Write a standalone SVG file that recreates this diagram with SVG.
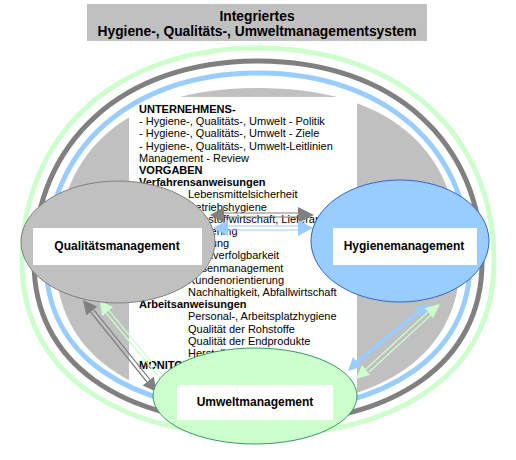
<svg xmlns="http://www.w3.org/2000/svg" width="516" height="460" viewBox="0 0 516 460">
<style>
.t{font-family:"Liberation Sans",Arial,sans-serif;font-size:11px;fill:#000}
.b{font-weight:bold}
.lbl{font-family:"Liberation Sans",Arial,sans-serif;font-size:12px;font-weight:bold;fill:#000;text-anchor:middle}
.ring{fill:none;stroke-width:5}
</style>
<rect width="516" height="460" fill="#fff"/>
<g id="title">
<rect x="87" y="4" width="340" height="37" fill="#c0c0c0"/>
<text x="257" y="21" text-anchor="middle" style="font-family:'Liberation Sans',Arial,sans-serif;font-size:13.8px;font-weight:bold">Integriertes</text>
<text x="257" y="36" text-anchor="middle" style="font-family:'Liberation Sans',Arial,sans-serif;font-size:13.8px;font-weight:bold">Hygiene-, Qualitäts-, Umweltmanagementsystem</text>
</g>
<g id="disk">
<path d="M56,262 C56,148.9 126.7,88 258,88 C389.3,88 460,148.9 460,262 C460,351.9 384.5,407 258,407 C131.5,407 56,351.9 56,262 Z" fill="#c0c0c0"/>
</g>
<g id="textbox">
<rect x="129" y="97" width="228" height="313" fill="#fff"/>
<text class="t b" x="139" y="113">UNTERNEHMENS-</text>
<text class="t" x="139" y="125.2">- Hygiene-, Qualitäts-, Umwelt - Politik</text>
<text class="t" x="139" y="137.4">- Hygiene-, Qualitäts-, Umwelt - Ziele</text>
<text class="t" x="139" y="149.6">- Hygiene-, Qualitäts-, Umwelt-Leitlinien</text>
<text class="t" x="139" y="161.8">Management - Review</text>
<text class="t b" x="139" y="174">VORGABEN</text>
<text class="t b" x="139" y="186.2">Verfahrensanweisungen</text>
<text class="t" x="188" y="198.4">Lebensmittelsicherheit</text>
<text class="t" x="188" y="210.6">Betriebshygiene</text>
<text class="t" x="188" y="222.8">Rohstoffwirtschaft, Lieferanten</text>
<text class="t" x="188" y="235">Screening</text>
<text class="t" x="188" y="247.2">Wartung</text>
<text class="t" x="188" y="259.4">Rückverfolgbarkeit</text>
<text class="t" x="188" y="271.6">Krisenmanagement</text>
<text class="t" x="188" y="283.8">Kundenorientierung</text>
<text class="t" x="188" y="296">Nachhaltigkeit, Abfallwirtschaft</text>
<text class="t b" x="139" y="308.2">Arbeitsanweisungen</text>
<text class="t" x="188" y="320.4">Personal-, Arbeitsplatzhygiene</text>
<text class="t" x="188" y="332.6">Qualität der Rohstoffe</text>
<text class="t" x="188" y="344.8">Qualität der Endprodukte</text>
<text class="t" x="188" y="357">Herstellung</text>
<text class="t b" x="139" y="369.2">MONITORING</text>
</g>
<g id="connectors">
<path class="ring" stroke="#ccffcc" d="M22,262 C22,133.6 116.4,48 258,48 C399.6,48 494,133.6 494,262 C494,369.3 404.3,435 258,435 C111.7,435 22,369.3 22,262 Z"/>
<path class="ring" stroke="#808080" d="M34,262 C34,141.4 123.6,61 258,61 C392.4,61 482,141.4 482,262 C482,361.8 396.9,423 258,423 C119.1,423 34,361.8 34,262 Z"/>
<path class="ring" stroke="#99ccff" d="M46,262 C46,148.6 130.8,73 258,73 C385.2,73 470,148.6 470,262 C470,354.4 389.4,411 258,411 C126.6,411 46,354.4 46,262 Z"/>
<polygon points="210,215 224,207 224,223" fill="#808080"/>
<polygon points="314,215 298,207 298,223" fill="#808080"/>
<line x1="224" y1="213" x2="298" y2="213" stroke="#808080" stroke-width="1.2"/>
<line x1="224" y1="217" x2="298" y2="217" stroke="#808080" stroke-width="1.2"/>
<polygon points="213,228 228,220 228,236" fill="#99ccff"/>
<polygon points="313,228 298,220 298,236" fill="#99ccff"/>
<line x1="228" y1="226" x2="298" y2="226" stroke="#99ccff" stroke-width="1.2"/>
<line x1="228" y1="230" x2="298" y2="230" stroke="#99ccff" stroke-width="1.2"/>
<polygon points="83,300 86.3,315.3 97.3,306.5" fill="#808080"/>
<polygon points="157,392 142.7,385.5 153.7,376.7" fill="#808080"/>
<line x1="90.6" y1="312" x2="147" y2="382" stroke="#808080" stroke-width="1.2"/>
<line x1="93.6" y1="309.6" x2="150" y2="379.6" stroke="#808080" stroke-width="1.2"/>
<polygon points="100,301 102,316 113,307" fill="#ccffcc"/>
<line x1="106" y1="313" x2="168" y2="388" stroke="#ccffcc" stroke-width="1.2"/>
<line x1="109" y1="310.6" x2="171" y2="385.6" stroke="#ccffcc" stroke-width="1.2"/>
<polygon points="430,304 415,307 423,318" fill="#99ccff"/>
<polygon points="348,371 353,357 361,367" fill="#99ccff"/>
<line x1="419" y1="312" x2="357" y2="362" stroke="#99ccff" stroke-width="4"/>
<polygon points="440,304 425,308 433,318" fill="#ccffcc"/>
<polygon points="356,379 362,365 370,375" fill="#ccffcc"/>
<line x1="428" y1="312" x2="366" y2="369" stroke="#ccffcc" stroke-width="1.2"/>
<line x1="431" y1="315" x2="369" y2="372" stroke="#ccffcc" stroke-width="1.2"/>
</g>
<g id="qualitaet">
<ellipse cx="118" cy="242" rx="97" ry="61" fill="#c0c0c0" stroke="#808080" stroke-width="1"/>
<rect x="33" y="228" width="169" height="37" fill="#fff"/>
<text class="lbl" x="117" y="250">Qualitätsmanagement</text>
</g>
<g id="hygiene">
<ellipse cx="400" cy="241" rx="89" ry="61" fill="#99ccff" stroke="#3366cc" stroke-width="1"/>
<rect x="333" y="228" width="144" height="37" fill="#fff"/>
<text class="lbl" x="404" y="250">Hygienemanagement</text>
</g>
<g id="umwelt">
<ellipse cx="255" cy="396" rx="102" ry="48" fill="#ccffcc" stroke="#339966" stroke-width="1"/>
<rect x="177" y="385" width="156" height="35" fill="#fff"/>
<text class="lbl" x="255" y="406">Umweltmanagement</text>
</g>
</svg>
